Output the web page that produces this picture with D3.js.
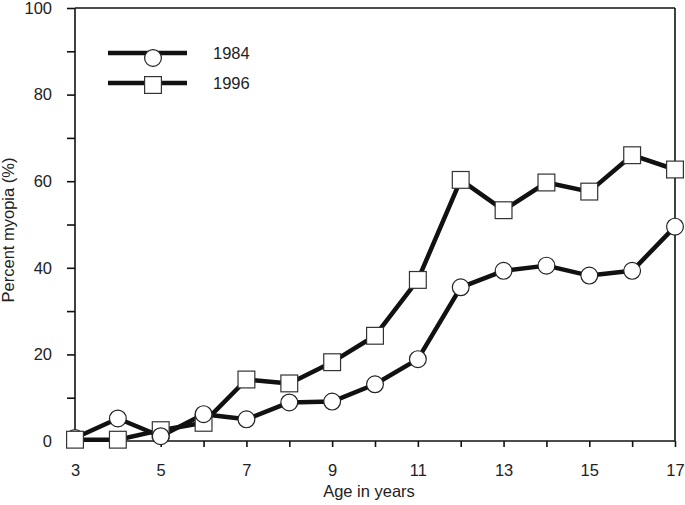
<!DOCTYPE html>
<html><head><meta charset="utf-8">
<script src="https://cdn.jsdelivr.net/npm/d3@7"></script>
<style>body{margin:0;background:#fff}svg{display:block}</style>
</head><body>
<svg id="c" width="685" height="505"></svg>
<script>
const ages = [3,4,5,6,7,8,9,10,11,12,13,14,15,16,17];
const myopia1984 = [0.7,5.2,1.1,6.2,5.0,8.9,9.1,13.1,18.9,35.5,39.3,40.5,38.2,39.3,49.5];
const myopia1996 = [0.3,0.3,2.5,4.2,14.2,13.3,18.2,24.3,37.2,60.3,53.3,59.7,57.6,66.0,62.7];
const yTicks = [0,10,20,30,40,50,60,70,80,90,100];
const yLabels = [0,20,40,60,80,100];
const xTicks = [3,4,5,6,7,8,9,10,11,12,13,14,15,16,17];
const xLabels = [3,5,7,9,11,13,15,17];
const seriesNames = ["1984","1996"];

const svg = d3.select("#c");
const x = d3.scaleLinear().domain([3,17]).range([75,675]);
const y = d3.scaleLinear().domain([0,100]).range([441,8]);
const font = "'Liberation Sans', Arial, Helvetica, sans-serif";
const fs = "16.5px";
const ink = "#111";

svg.append("line").attr("x1",75).attr("x2",675).attr("y1",y(100)).attr("y2",y(100)).attr("stroke",ink).attr("stroke-width",1.6);
svg.append("line").attr("x1",675).attr("x2",675).attr("y1",y(100)).attr("y2",y(0)).attr("stroke",ink).attr("stroke-width",1.6);

const yAxis = d3.axisLeft(y).tickValues(yTicks).tickSize(8).tickPadding(15)
  .tickFormat(d => yLabels.includes(d) ? d : "");
const gy = svg.append("g").attr("transform","translate(75,0)").call(yAxis);
const xAxis = d3.axisBottom(x).tickValues(xTicks).tickSize(6).tickPadding(17)
  .tickFormat(d => xLabels.includes(d) ? d : "");
const gx = svg.append("g").attr("transform",`translate(0,${y(0)})`).call(xAxis);
[gx,gy].forEach(g=>{
  g.select(".domain").attr("stroke",ink).attr("stroke-width",1.6);
  g.selectAll(".tick line").attr("stroke",ink).attr("stroke-width",1.6);
  g.selectAll(".tick text").attr("fill","#222").style("font-family",font).style("font-size",fs);
});
gy.select(".domain").attr("d",`M0,${y(100)}V${y(0)}`);
gx.select(".domain").attr("d",`M75,0H675`);

svg.append("text").attr("x",369).attr("y",497).attr("text-anchor","middle")
  .style("font-family",font).style("font-size",fs).attr("fill","#222").text("Age in years");
svg.append("text").attr("transform","translate(14,230) rotate(-90)").attr("text-anchor","middle")
  .style("font-family",font).style("font-size",fs).attr("fill","#222").text("Percent myopia (%)");

const line = d3.line().x((d,i)=>x(ages[i])).y(d=>y(d));
const plot = svg.append("g");
plot.append("path").datum(myopia1996).attr("d",line).attr("fill","none").attr("stroke",ink).attr("stroke-width",4.5).attr("stroke-linejoin","round");
plot.append("path").datum(myopia1984).attr("d",line).attr("fill","none").attr("stroke",ink).attr("stroke-width",4.5).attr("stroke-linejoin","round");

const r = 8.4, s = 16.8;
function circles(idx){
  plot.selectAll(null).data(idx).enter().append("circle")
    .attr("cx",i=>x(ages[i])).attr("cy",i=>y(myopia1984[i])).attr("r",r)
    .attr("fill","#fff").attr("stroke","#222").attr("stroke-width",1.2);
}
const allIdx = ages.map((d,i)=>i);
circles([0]);
plot.selectAll(null).data(allIdx).enter().append("rect")
  .attr("x",i=>x(ages[i])-s/2).attr("y",i=>y(myopia1996[i])-s/2).attr("width",s).attr("height",s)
  .attr("fill","#fff").attr("stroke","#333").attr("stroke-width",1.2);
circles(allIdx.slice(1));

const leg = svg.append("g");
const legRows = [{name:seriesNames[0],ly:53,my:58,shape:"circle",ty:59},{name:seriesNames[1],ly:83,my:85,shape:"rect",ty:89}];
legRows.forEach(rw=>{
  leg.append("line").attr("x1",108).attr("x2",187).attr("y1",rw.ly).attr("y2",rw.ly).attr("stroke",ink).attr("stroke-width",4.5);
  if(rw.shape==="circle") leg.append("circle").attr("cx",153).attr("cy",rw.my).attr("r",r).attr("fill","#fff").attr("stroke","#222").attr("stroke-width",1.2);
  else leg.append("rect").attr("x",153-s/2).attr("y",rw.my-s/2).attr("width",s).attr("height",s).attr("fill","#fff").attr("stroke","#333").attr("stroke-width",1.2);
  leg.append("text").attr("x",213).attr("y",rw.ty).style("font-family",font).style("font-size",fs).attr("fill","#222").text(rw.name);
});
</script>
</body></html>
